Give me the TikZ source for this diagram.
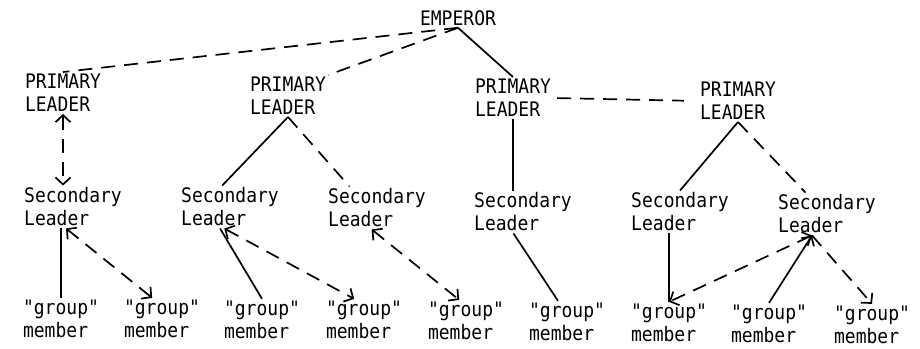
\documentclass[tikz,border=0pt]{standalone}
\usepackage{fontspec}
\setmonofont{DejaVu Sans Mono}[FakeStretch=0.9]
\usetikzlibrary{arrows.meta}

\begin{document}
\begin{tikzpicture}[x=1pt,y=-1pt,
		rank/.style={font=\ttfamily\fontsize{20}{23}\selectfont, align=left, inner sep=2pt},
		link/.style={line width=1.7pt},
		loose/.style={link, dash pattern=on 14pt off 9pt},
		>={Straight Barb[length=7pt,width=15pt]}]
		\useasboundingbox (0,0) rectangle (920,348);
		
		\node[rank] (emp) at (458,18) {EMPEROR};
		
		\node[rank] (p1) at (63,93) {PRIMARY\\LEADER};
		\node[rank] (p2) at (288,96) {PRIMARY\\LEADER};
		\node[rank] (p3) at (513,98) {PRIMARY\\LEADER};
		\node[rank] (p4) at (738,101) {PRIMARY\\LEADER};
		
		\node[rank] (s1) at (73,207) {Secondary\\Leader};
		\node[rank] (s2) at (230,207) {Secondary\\Leader};
		\node[rank] (s3) at (377,208) {Secondary\\Leader};
		\node[rank] (s4) at (523,212) {Secondary\\Leader};
		\node[rank] (s5) at (680,212) {Secondary\\Leader};
		\node[rank] (s6) at (827,214) {Secondary\\Leader};
		
		\node[rank] (g1) at (61,319) {"group"\\member};
		\node[rank] (g2) at (162,319) {"group"\\member};
		\node[rank] (g3) at (262,320) {"group"\\member};
		\node[rank] (g4) at (364,320) {"group"\\member};
		\node[rank] (g5) at (466,321) {"group"\\member};
		\node[rank] (g6) at (567,322) {"group"\\member};
		\node[rank] (g7) at (669,323) {"group"\\member};
		\node[rank] (g8) at (769,324) {"group"\\member};
		\node[rank] (g9) at (872,325) {"group"\\member};
		
		% emperor to primary leaders
		\draw[loose] (emp.south) -- (p1.north);
		\draw[loose] (emp.south) -- (p2.north east);
		\draw[link] (emp.south) -- (p3.north);
		\draw[loose, shorten <=4pt, shorten >=14pt] (p3.east) -- (p4.west);
		
		% primary to secondary
		\draw[loose, <->] (p1.south) -- (p1.south |- s1.north);
		\draw[link] (p2.south) -- (s2.110);
		\draw[loose] (p2.south) -- (s3.142);
		\draw[link] (p3.south) -- (p3.south |- s4.north);
		\draw[link] (p4.south) -- (s5.north);
		\draw[loose] (p4.south) -- (s6.135);
		
		% secondary to members
		\draw[link] (g1.north) -- (g1.north |- s1.south);
		\draw[loose, <->] (s1.252) -- (g2.115);
		\draw[link] (s2.245) -- (g3.north);
		\draw[loose, <->] (s2.255) -- (g4.115);
		\draw[loose, <->] (s3.256) -- (g5.108);
		\draw[link] (s4.246) -- (g6.113);
		\draw[link] (g7.north) -- (g7.north |- s5.south);
		\draw[loose, <->] (s6.235) -- (g7.north);
		\draw[link, ->] (g8.north) -- (s6.235);
		\draw[loose, ->] (s6.235) -- (g9.north);
	\end{tikzpicture}
\end{document}
